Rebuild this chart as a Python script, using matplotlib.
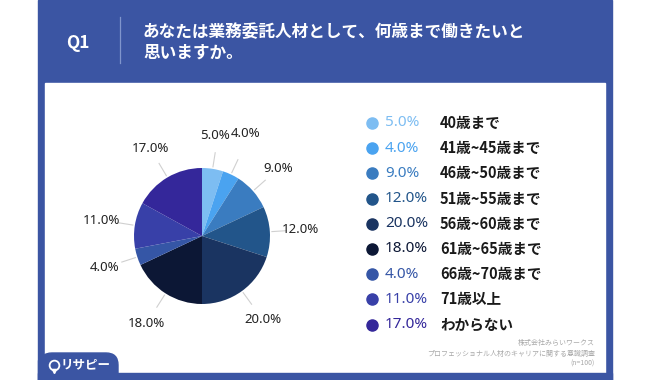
import numpy as np
import matplotlib
matplotlib.use("Agg")
import matplotlib.pyplot as plt
from matplotlib.patches import Rectangle, FancyBboxPatch

plt.rcParams['font.family'] = ['Noto Sans CJK JP', 'DejaVu Sans']
LATIN = ['Noto Sans', 'DejaVu Sans']

# ---- data ----
categories = ["40歳まで", "41歳~45歳まで", "46歳~50歳まで", "51歳~55歳まで", "56歳~60歳まで",
              "61歳~65歳まで", "66歳~70歳まで", "71歳以上", "わからない"]
values = [5.0, 4.0, 9.0, 12.0, 20.0, 18.0, 4.0, 11.0, 17.0]
colors = ["#7dbdf2", "#4aa3f0", "#3a7cc0", "#22558a", "#1a3461",
          "#0c1735", "#3556a6", "#3840a8", "#34279a"]
title_lines = ["あなたは業務委託人材として、何歳まで働きたいと", "思いますか。"]
question = "Q1"
footer_lines = ["株式会社みらいワークス", "プロフェッショナル人材のキャリアに関する意識調査", "(n=100)"]
brand = "リサピー"

BLUE = "#3b55a3"

fig = plt.figure(figsize=(6.5, 3.8), dpi=100)
bg = fig.add_axes([0, 0, 1, 1])
bg.set_xlim(0, 650)
bg.set_ylim(380, 0)
bg.axis("off")

# panels
bg.add_patch(Rectangle((38, 0), 574, 380, color=BLUE, zorder=0))
bg.add_patch(Rectangle((45, 83), 560, 290, color="white", zorder=1))
bg.add_patch(FancyBboxPatch((40, 353), 78, 40, boxstyle="round,pad=0,rounding_size=12",
                            color=BLUE, zorder=2))
bg.add_patch(Rectangle((38, 360), 20, 20, color=BLUE, zorder=2))
bg.add_patch(Rectangle((38, 373), 574, 7, color=BLUE, zorder=2))

# header
bg.text(78, 43, question, color="white", fontsize=12.5, fontweight="bold",
        ha="center", va="center", zorder=3)
bg.plot([120, 120], [17, 63], color="#8095cc", lw=0.9, zorder=3)
bg.text(143, 32, title_lines[0], color="white", fontsize=12, fontweight="bold",
        ha="left", va="center", zorder=3)
bg.text(143, 53, title_lines[1], color="white", fontsize=12, fontweight="bold",
        ha="left", va="center", zorder=3)

# brand logo
bg.plot([54], [365], marker="o", markersize=7, markerfacecolor="none",
        markeredgecolor="white", markeredgewidth=1.3, zorder=4)
bg.plot([54], [371], marker="v", markersize=3, color="white", zorder=4)
bg.text(61, 365, brand, color="white", fontsize=9, fontweight="bold",
        ha="left", va="center", zorder=4)

# footer
for i, line in enumerate(footer_lines):
    bg.text(595, 343 + i * 10.5, line, color="#a8a8a8", fontsize=5, ha="right",
            va="center", zorder=3)

# legend
for i, (cat, v, c) in enumerate(zip(categories, values, colors)):
    y = 123 + i * 25.2
    bg.plot([372], [y], marker="o", markersize=8, color=c, zorder=3)
    bg.text(385, y, f"{v:.1f}%", color=c, fontsize=11, family=LATIN,
            ha="left", va="center", zorder=3)
    bg.text(440, y, cat, color="#1a1a1a", fontsize=10.5, fontweight="bold",
            ha="left", va="center", zorder=3)

# pie
cx, cy, r = 202, 236, 68
pax = fig.add_axes([(cx - r) / 650, 1 - (cy + r) / 380, 2 * r / 650, 2 * r / 380])
wedges, _ = pax.pie(values, colors=colors, startangle=90, counterclock=False,
                    radius=1.0, wedgeprops=dict(linewidth=0))
pax.set_xlim(-1, 1)
pax.set_ylim(-1, 1)
pax.set_aspect("equal")
pax.axis("off")

label_r = [1.5, 1.66, 1.5, 1.45, 1.52, 1.52, 1.5, 1.5, 1.5]
label_dx = [-0.05, -0.07, 0.0, 0, 0, 0, 0, 0, 0]
for w, v, lr, dx in zip(wedges, values, label_r, label_dx):
    ang = np.deg2rad((w.theta1 + w.theta2) / 2)
    ca, sa = np.cos(ang), np.sin(ang)
    pax.plot([1.03 * ca, 1.24 * ca], [1.03 * sa, 1.24 * sa], color="#d0d0d0",
             lw=0.8, clip_on=False)
    pax.text(lr * ca + dx, lr * sa, f"{v:.1f}%", fontsize=9.5, color="#222222",
             family=LATIN, ha="center", va="center", clip_on=False)

fig.savefig("out.png", dpi=100)
